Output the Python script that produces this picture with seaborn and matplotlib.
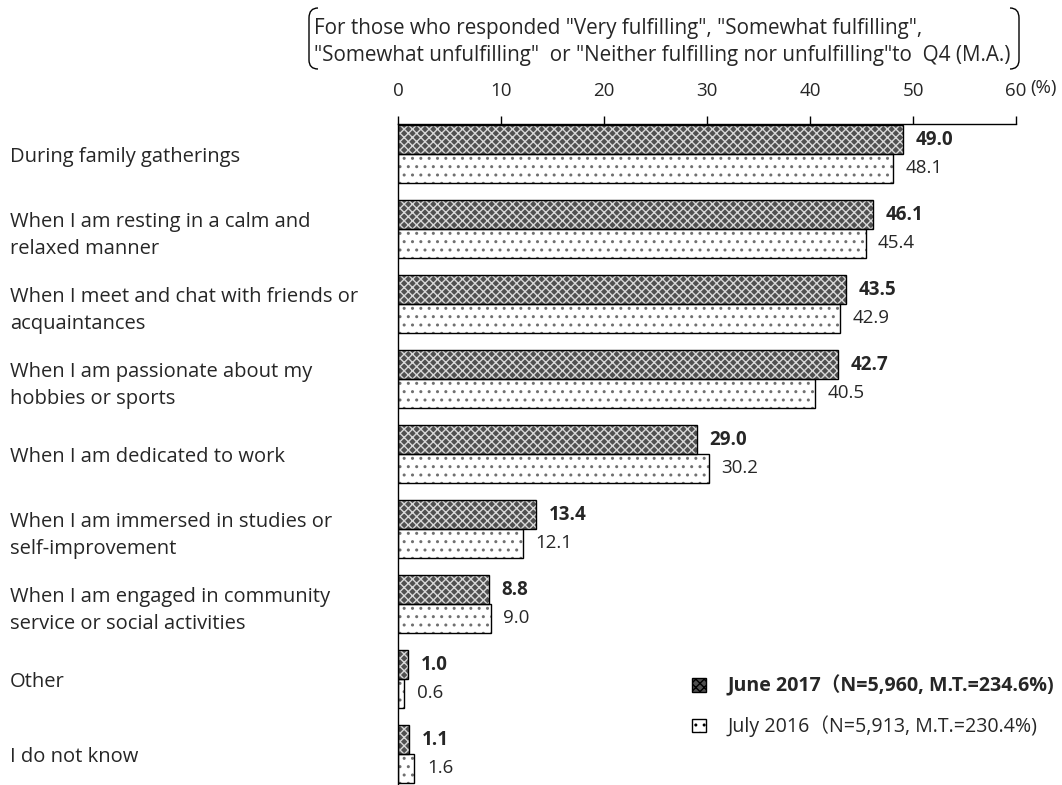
import matplotlib
matplotlib.use("Agg")
import matplotlib.pyplot as plt
import seaborn as sns
import pandas as pd
from matplotlib.patches import Patch, Rectangle, PathPatch
from matplotlib.path import Path

categories = [
    "During family gatherings",
    "When I am resting in a calm and\nrelaxed manner",
    "When I meet and chat with friends or\nacquaintances",
    "When I am passionate about my\nhobbies or sports",
    "When I am dedicated to work",
    "When I am immersed in studies or\nself-improvement",
    "When I am engaged in community\nservice or social activities",
    "Other",
    "I do not know",
]
june_2017 = [49.0, 46.1, 43.5, 42.7, 29.0, 13.4, 8.8, 1.0, 1.1]
july_2016 = [48.1, 45.4, 42.9, 40.5, 30.2, 12.1, 9.0, 0.6, 1.6]
series_labels = ["June 2017（N=5,960, M.T.=234.6%)", "July 2016（N=5,913, M.T.=230.4%)"]
x_ticks = [0, 10, 20, 30, 40, 50, 60]
header = ('For those who responded "Very fulfilling", "Somewhat fulfilling",\n'
          '"Somewhat unfulfilling"  or "Neither fulfilling nor unfulfilling"to  Q4 (M.A.)')

sns.set_style("white")
plt.rcParams['font.family'] = ['Open Sans', 'Noto Sans CJK JP', 'DejaVu Sans']
plt.rcParams['hatch.linewidth'] = 1.0

df = pd.DataFrame({
    "category": categories * 2,
    "value": june_2017 + july_2016,
    "series": [series_labels[0]] * len(categories) + [series_labels[1]] * len(categories),
})

W, H = 1062, 785
fig = plt.figure(figsize=(W / 100, H / 100), dpi=100)
top_px, bottom_px = 124, 791.5
ax = fig.add_axes([398 / W, 1 - bottom_px / H, (1016 - 398) / W, (bottom_px - top_px) / H])

sns.barplot(data=df, y="category", x="value", hue="series", hue_order=series_labels,
            order=categories, orient="h", width=0.77, ax=ax, legend=False,
            palette=["#505050", "white"], saturation=1)

styles = [
    dict(face="#505050", hatch="xxxx", hcolor="#d8d8d8"),
    dict(face="white", hatch="..", hcolor="#707070"),
]
for cont, st in zip(ax.containers, styles):
    for p in cont:
        p.set_facecolor(st["face"])
        p.set_hatch(st["hatch"])
        p.set_edgecolor(st["hcolor"])
        p.set_linewidth(0)
        outline = Rectangle(p.get_xy(), p.get_width(), p.get_height(), fill=False,
                            edgecolor="black", linewidth=1.0, zorder=p.get_zorder() + 0.1)
        ax.add_patch(outline)

fs = 13.5
fs_lab = 14.5
ax.bar_label(ax.containers[0], fmt="%.1f", padding=9, fontsize=fs, fontweight="bold")
ax.bar_label(ax.containers[1], fmt="%.1f", padding=9, fontsize=fs)

ax.set_xlim(0, 60)
ax.set_ylim(8.5, -0.4)
ax.set_xticks(x_ticks)
ax.xaxis.tick_top()
ax.tick_params(axis="x", direction="out", length=6, width=1, color="black",
               labelsize=fs, pad=11, top=True, bottom=False)
ax.set_xlabel("")
ax.set_ylabel("")
for s in ["right", "bottom"]:
    ax.spines[s].set_visible(False)
for s in ["left", "top"]:
    ax.spines[s].set_color("black")
    ax.spines[s].set_linewidth(1.0)

ax.tick_params(axis="y", length=0, pad=(398 - 10) * 0.72, labelsize=fs_lab)
for lbl in ax.get_yticklabels():
    lbl.set_horizontalalignment("left")
    lbl.set_multialignment("left")
    lbl.set_linespacing(1.5)

fig.text(1030 / W, 1 - 88 / H, "(%)", ha="left", va="center", fontsize=fs)

# header
fig.text(314 / W, 1 - 42 / H, header, ha="left", va="center", fontsize=14.9, linespacing=1.35)

def bracket(x0, x1):
    pts = [(x1, 8), (x0, 8), (x0, 18), (x0, 60), (x0, 69), (x1, 69)]
    verts = [(x / W, 1 - y / H) for x, y in pts]
    codes = [Path.MOVETO, Path.CURVE3, Path.CURVE3, Path.LINETO, Path.CURVE3, Path.CURVE3]
    fig.add_artist(PathPatch(Path(verts, codes), fill=False, edgecolor="black",
                             linewidth=1.0, transform=fig.transFigure))

bracket(309, 318)
bracket(1019, 1010)

handles = [
    Patch(facecolor=styles[0]["face"], hatch="xxxx", edgecolor="black", linewidth=1.0),
    Patch(facecolor="white", hatch="..", edgecolor="black", linewidth=1.0),
]
leg = fig.legend(handles, series_labels, loc="upper left",
                 bbox_to_anchor=(674 / W, 1 - 658 / H), frameon=False,
                 handlelength=0.72, handleheight=0.72, handletextpad=1.1,
                 labelspacing=0.95, fontsize=14.1)
leg.get_texts()[0].set_fontweight("bold")

fig.savefig("out.png", dpi=100)
